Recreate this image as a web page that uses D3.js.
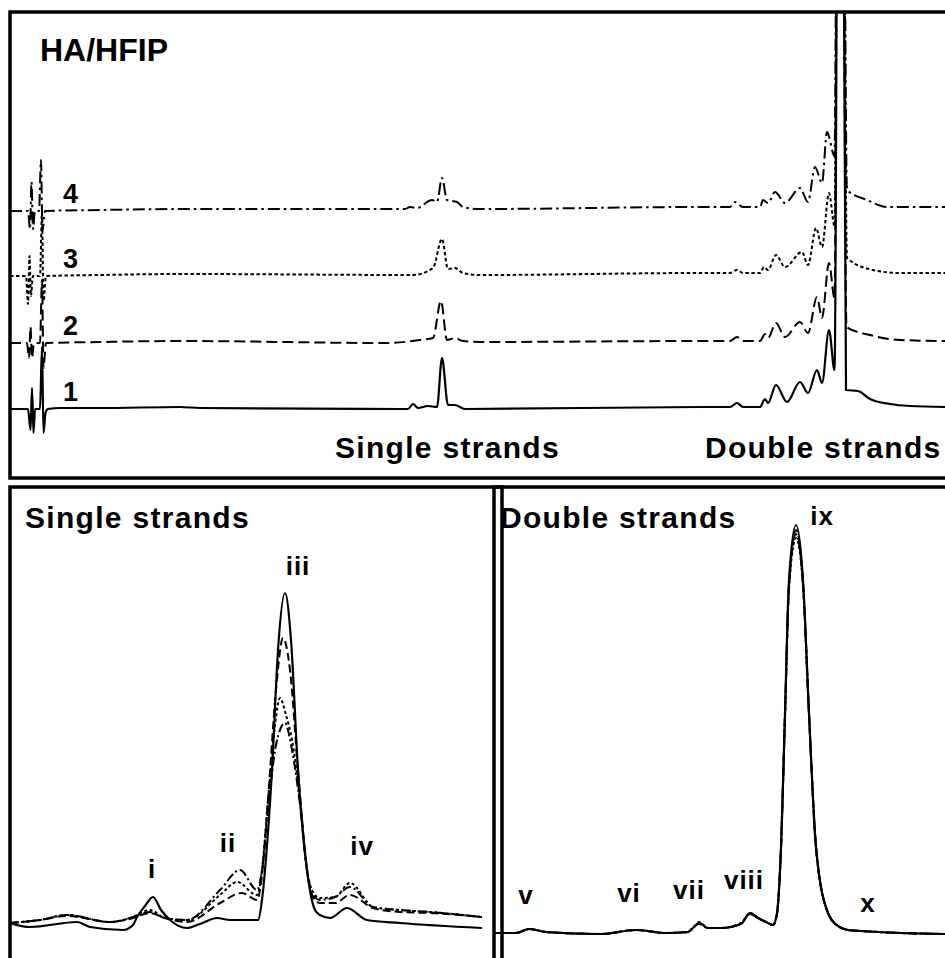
<!DOCTYPE html>
<html>
<head>
<meta charset="utf-8">
<script src="https://cdn.jsdelivr.net/npm/d3@7"></script>
<style>
body { margin: 0; background: #fff; }
text { font-family: "Liberation Sans", Arial, sans-serif; font-weight: bold; fill: #000; }
</style>
</head>
<body>
<script>
//overview chromatograms (time, signal above own baseline), runs 1-4
var overview1 = [[0,0],[1.8,0],[2.05,-21],[2.2,21],[2.35,-24],[2.5,0],[3.0,0],[3.2,62],[3.35,-24],[3.55,-4],[3.8,0],[5.0,1],[9.0,1],[17.0,2],[19.0,1],[39.0,0],[39.8,0],[40.3,5],[40.8,1],[41.8,3],[42.7,2],[43.2,51],[43.8,4],[44.5,4],[45.5,0],[69.0,2],[72.0,2],[72.7,6],[73.3,2],[75.0,2],[75.5,10],[75.8,6],[76.6,24],[77.7,7],[79.0,27],[79.8,16],[80.7,39],[81.2,26],[81.9,79],[82.45,39],[83.0,1200],[83.6,19],[84.8,18],[86.0,10],[88.0,5],[90.0,3],[93.5,2]];
var overview2 = [[0,0],[1.7,0],[1.9,-15],[2.05,16],[2.2,-15],[2.4,0],[3.0,0],[3.2,63],[3.35,-25],[3.6,0],[9.0,1],[17.0,2],[37.7,0],[41.0,3],[42.3,5],[43.1,42],[43.7,3],[44.5,5],[45.3,2],[47.0,1],[69.0,2],[72.0,2],[72.7,6],[73.3,2],[75.0,2],[75.5,9],[75.8,5],[76.6,20],[77.5,6],[79.0,21],[79.8,10],[80.7,46],[81.2,25],[81.9,80],[82.45,45],[83.0,1200],[83.65,16],[86.0,8],[89.0,3],[93.5,2]];
var overview3 = [[0,0],[1.6,0],[1.8,-28],[1.95,20],[2.1,-20],[2.3,0],[3.0,0],[3.2,63],[3.35,-25],[3.6,0],[9.0,1],[17.2,2],[40.3,1],[42.3,8],[43.2,37],[43.8,7],[44.5,8],[45.3,3],[47.0,1],[69.0,3],[72.0,3],[72.7,6],[73.3,3],[75.0,3],[75.4,9],[75.8,6],[76.6,21],[77.5,9],[79.2,24],[79.8,11],[80.6,48],[81.2,29],[81.9,83],[82.45,50],[83.0,1200],[83.7,18],[86.3,6],[89.0,3],[93.5,3]];
var overview4 = [[0,0],[1.8,0],[2.0,-18],[2.15,29],[2.3,-18],[2.5,0],[2.9,0],[3.1,51],[3.25,-20],[3.5,0],[9.0,1],[17.0,2],[39.5,2],[40.0,4],[40.7,3],[42.2,11],[42.7,9],[43.2,33],[43.7,11],[44.7,9],[45.3,4],[47.0,2],[69.0,4],[72.0,4],[72.5,9],[73.3,4],[75.0,4],[75.3,11],[75.8,8],[76.5,19],[77.5,8],[79.0,23],[79.8,9],[80.5,44],[81.2,28],[81.7,79],[82.45,55],[83.0,1200],[83.7,21],[85.7,11],[87.7,4],[93.5,4]];
var overviewOffsets = [0, 66, 133, 198];
var runLabels = ["1", "2", "3", "4"];

//single strands zoom
var single1 = [[0,7],[2.0,3],[6.7,8],[8.0,3],[11.3,0],[12.3,5],[12.7,13],[13.5,24],[14.3,33],[15.1,20],[16.0,10],[17.7,2],[19.0,6],[20.7,12],[22.0,10],[24.8,10],[25.2,30],[25.5,60],[26.2,160],[26.8,280],[27.5,337],[28.1,290],[28.8,160],[29.7,60],[30.5,20],[31.0,15],[32.0,12],[33.7,22],[35.7,10],[39.0,7],[47.2,2]];
var single2 = [[0,7],[3.0,10],[5.7,14],[10.0,8],[12.0,11],[14.0,17],[15.5,12],[17.7,8],[21.0,27],[23.2,37],[24.7,30],[25.2,55],[25.8,130],[26.6,240],[27.3,292],[28.0,260],[28.8,160],[29.7,60],[30.3,33],[31.0,27],[32.5,27],[34.0,35],[36.3,22],[39.0,18],[42.0,17],[47.2,13]];
var single3 = [[0,7],[3.0,10],[5.7,15],[10.0,8],[12.0,12],[14.0,20],[15.5,12],[17.7,10],[21.0,35],[22.7,48],[24.7,35],[25.2,60],[25.8,130],[26.5,205],[27.0,232],[27.6,215],[28.2,190],[29.0,130],[29.7,60],[30.3,38],[31.0,32],[32.5,33],[34.0,47],[36.3,23],[39.0,20],[42.0,18],[47.2,13]];
var single4 = [[0,7],[3.0,10],[5.7,15],[10.0,8],[12.0,12],[14.0,18],[15.5,12],[17.7,10],[21.0,40],[23.0,60],[24.7,40],[25.2,60],[25.8,120],[26.6,185],[27.5,207],[28.2,180],[29.0,125],[29.7,60],[30.3,35],[31.0,30],[32.5,33],[34.0,43],[36.3,23],[39.0,20],[42.0,18],[47.2,13]];
var singleNames = ["i", "ii", "iii", "iv"];
var singleNameT = [14.2, 21.8, 28.8, 35.2];
var singleNameH = [52, 78, 355, 75];

//double strands zoom
var double1 = [[0,1],[2.2,1],[3.5,5],[5.2,2],[10.7,0],[14.2,4],[17.2,1],[19.4,2],[20.0,7],[20.5,11],[21.4,6],[22.7,6],[24.7,10],[25.6,21],[26.4,16],[27.2,12],[27.9,9],[28.3,21],[28.7,87],[29.1,221],[29.5,354],[30.2,409],[30.9,354],[31.5,221],[32.2,87],[33.4,21],[34.4,8],[35.4,4],[36.7,3],[40.7,1],[45.2,0]];
var double2 = [[0,1],[2.2,1],[3.5,5],[5.2,2],[10.7,0],[14.2,4],[17.2,1],[19.4,2],[20.0,8],[20.5,10],[21.4,6],[22.7,6],[24.7,10],[25.6,20],[26.4,16],[27.2,12],[27.9,9],[28.3,20],[28.7,86],[29.1,219],[29.5,350],[30.2,404],[30.9,352],[31.5,220],[32.2,87],[33.4,21],[34.4,8],[35.4,4],[36.7,3],[40.7,1],[45.2,0]];
var double3 = [[0,1],[2.2,1],[3.5,5],[5.2,2],[10.7,0],[14.2,4],[17.2,1],[19.4,2],[20.0,7],[20.5,12],[21.4,6],[22.7,6],[24.7,11],[25.6,21],[26.4,16],[27.2,12],[27.9,9],[28.3,21],[28.7,85],[29.1,217],[29.5,345],[30.2,396],[30.9,348],[31.5,219],[32.2,86],[33.4,21],[34.4,8],[35.4,4],[36.7,3],[40.7,1],[45.2,0]];
var double4 = [[0,1],[2.2,1],[3.5,5],[5.2,2],[10.7,0],[14.2,4],[17.2,1],[19.4,2],[20.0,7],[20.5,11],[21.4,6],[22.7,6],[24.7,10],[25.6,21],[26.4,16],[27.2,12],[27.9,9],[28.3,21],[28.7,86],[29.1,219],[29.5,348],[30.2,400],[30.9,350],[31.5,220],[32.2,87],[33.4,21],[34.4,8],[35.4,4],[36.7,3],[40.7,1],[45.2,0]];
var doubleNames = ["v", "vi", "vii", "viii", "ix", "x"];
var doubleNameT = [3.2, 13.5, 19.5, 25.0, 32.8, 37.4];
var doubleNameH = [30, 32, 35, 45, 409, 22];

var width = 945,
    height = 958;

var svg = d3.select("body")
    .append("svg")
    .attr("width", width)
    .attr("height", height);

//line styles for runs 1-4: solid, dashed, dotted, dash-dot
var bigDash = [null, "11,5", "3.5,2.5", "12,4,2.5,4"];
var smallDash = [null, "8,4", "3,2.5", "9,3,2,3"];

function drawPanel(id, box, xDom, yDom, baseY, traces, offsets, dashes){
    var x = d3.scaleLinear().domain(xDom).range([box.x0, box.x1]);
    var y = d3.scaleLinear().domain(yDom).range([baseY, box.y0]);

    svg.append("clipPath")
        .attr("id", id)
        .append("rect")
        .attr("x", box.x0)
        .attr("y", box.y0)
        .attr("width", box.x1 - box.x0)
        .attr("height", box.y1 - box.y0);

    var g = svg.append("g").attr("clip-path", "url(#" + id + ")");

    traces.forEach(function(tr, i){
        var line = d3.line()
            .x(function(d){ return x(d[0]); })
            .y(function(d){ return y(d[1] + offsets[i]); })
            .curve(d3.curveMonotoneX);
        g.append("path")
            .datum(tr)
            .attr("d", line)
            .attr("fill", "none")
            .attr("stroke", "#000")
            .attr("stroke-width", i == 0 ? 2.2 : 2)
            .attr("stroke-dasharray", dashes[i]);
    });

    //frame
    svg.append("rect")
        .attr("x", box.x0)
        .attr("y", box.y0)
        .attr("width", box.x1 - box.x0 + 20)
        .attr("height", box.y1 - box.y0)
        .attr("fill", "none")
        .attr("stroke", "#000")
        .attr("stroke-width", 3.5);

    return {x: x, y: y};
}

//top panel: overview
var ov = drawPanel("clipTop", {x0: 10, x1: 945, y0: 12, y1: 478}, [0, 93.5], [0, 397], 409,
    [overview1, overview2, overview3, overview4], overviewOffsets, bigDash);

svg.append("text").attr("x", 40).attr("y", 61).style("font-size", "32px").text("HA/HFIP");

svg.selectAll(".runLabel")
    .data(runLabels)
    .enter()
    .append("text")
    .attr("class", "runLabel")
    .attr("x", 63)
    .attr("y", function(d, i){ return ov.y(overviewOffsets[i]) - 8; })
    .style("font-size", "27px")
    .text(function(d){ return d; });

svg.append("text").attr("x", 335).attr("y", 458).style("font-size", "30px").style("letter-spacing", "1.3px").text("Single strands");
svg.append("text").attr("x", 705).attr("y", 458).style("font-size", "30px").style("letter-spacing", "1.3px").text("Double strands");

//bottom left: single strands
var ss = drawPanel("clipSS", {x0: 10, x1: 482, y0: 487, y1: 970}, [0, 47.2], [0, 443], 930,
    [single1, single2, single3, single4], [0, 0, 0, 0], smallDash);

svg.append("text").attr("x", 25).attr("y", 528).style("font-size", "30px").style("letter-spacing", "1.3px").text("Single strands");

svg.selectAll(".ssName")
    .data(singleNames)
    .enter()
    .append("text")
    .attr("class", "ssName")
    .attr("x", function(d, i){ return ss.x(singleNameT[i]); })
    .attr("y", function(d, i){ return ss.y(singleNameH[i]); })
    .attr("text-anchor", "middle")
    .style("font-size", "26px")
    .style("letter-spacing", "1px")
    .text(function(d){ return d; });

//bottom right: double strands
var ds = drawPanel("clipDS", {x0: 494, x1: 945, y0: 487, y1: 970}, [0, 45.1], [0, 447], 934,
    [double1, double2, double3, double4], [0, 0, 0, 0], smallDash);

svg.append("text").attr("x", 500).attr("y", 528).style("font-size", "30px").style("letter-spacing", "1.3px").text("Double strands");

svg.selectAll(".dsName")
    .data(doubleNames)
    .enter()
    .append("text")
    .attr("class", "dsName")
    .attr("x", function(d, i){ return ds.x(doubleNameT[i]); })
    .attr("y", function(d, i){ return ds.y(doubleNameH[i]); })
    .attr("text-anchor", "middle")
    .style("font-size", "26px")
    .style("letter-spacing", "1px")
    .text(function(d){ return d; });
</script>
</body>
</html>
